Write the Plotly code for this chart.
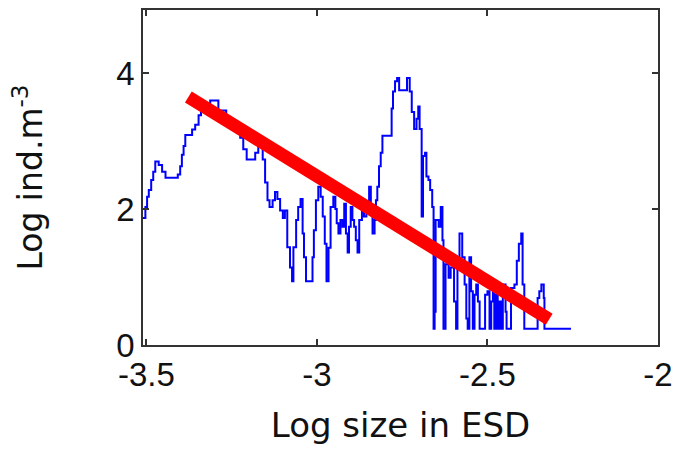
import plotly.graph_objects as go

# Histogram (stairs) of log abundance vs log size
size_x = [-3.510, -3.503, -3.498, -3.493, -3.486, -3.480, -3.474, -3.464, -3.454, -3.444,
          -3.408, -3.401, -3.396, -3.391, -3.386, -3.366, -3.357, -3.347, -3.340, -3.313,
          -3.289, -3.266, -3.243, -3.225, -3.216, -3.206, -3.181, -3.172, -3.159, -3.152,
          -3.145, -3.139, -3.130, -3.123, -3.116, -3.108, -3.100, -3.094, -3.087, -3.079,
          -3.073, -3.069, -3.061, -3.055, -3.048, -3.042, -3.038, -3.032, -3.013, -3.009,
          -3.003, -2.996, -2.989, -2.983, -2.977, -2.972, -2.966, -2.960, -2.952, -2.946,
          -2.942, -2.937, -2.931, -2.925, -2.920, -2.915, -2.910, -2.906, -2.901, -2.896,
          -2.891, -2.886, -2.881, -2.876, -2.868, -2.862, -2.855, -2.847, -2.842, -2.837,
          -2.831, -2.827, -2.823, -2.818, -2.813, -2.808, -2.781, -2.777, -2.771, -2.765,
          -2.759, -2.736, -2.728, -2.722, -2.715, -2.708, -2.703, -2.699, -2.693, -2.689,
          -2.683, -2.679, -2.673, -2.668, -2.662, -2.658, -2.655, -2.652, -2.643, -2.637,
          -2.632, -2.629, -2.623, -2.614, -2.608, -2.598, -2.592, -2.588, -2.582, -2.574,
          -2.567, -2.562, -2.558, -2.553, -2.548, -2.543, -2.538, -2.533, -2.528, -2.523,
          -2.507, -2.500, -2.494, -2.489, -2.484, -2.480, -2.475, -2.470, -2.465, -2.460,
          -2.455, -2.447, -2.444, -2.431, -2.421, -2.414, -2.408, -2.401, -2.397, -2.392,
          -2.353, -2.348, -2.342, -2.335, -2.333, -2.255]
log_abund = [1.87, 2.03, 2.18, 2.28, 2.43, 2.55, 2.70, 2.65, 2.55, 2.46,
             2.51, 2.63, 2.80, 2.93, 3.09, 3.17, 3.24, 3.38, 3.53, 3.60,
             3.45, 3.30, 3.15, 3.05, 2.88, 2.73, 2.83, 2.95, 2.73, 2.39,
             2.13, 2.03, 2.13, 2.25, 2.15, 1.98, 1.87, 1.98, 1.44, 1.14,
             0.94, 1.44, 1.84, 2.03, 2.15, 1.64, 1.29, 0.94, 1.29, 1.69,
             2.13, 2.33, 2.18, 1.89, 1.49, 0.94, 1.43, 2.03, 2.18, 2.00,
             1.79, 1.64, 1.84, 1.74, 2.08, 1.64, 1.36, 1.74, 2.03, 1.84,
             1.74, 1.54, 1.36, 1.84, 2.00, 1.89, 2.03, 2.33, 2.03, 1.64,
             1.84, 2.13, 2.33, 2.63, 2.83, 3.08, 3.48, 3.73, 3.88, 3.93,
             3.75, 3.93, 3.73, 3.43, 3.18, 3.33, 3.51, 3.18, 1.89, 2.78,
             2.83, 2.48, 2.43, 2.28, 2.03, 0.24, 0.49, 1.84, 1.74, 2.03,
             1.54, 0.24, 1.19, 0.99, 1.14, 0.64, 0.24, 1.29, 1.64, 1.29,
             0.89, 0.39, 0.24, 1.29, 0.79, 0.24, 0.74, 0.89, 0.64, 0.24,
             0.74, 0.79, 0.24, 0.64, 0.79, 0.24, 0.74, 0.24, 0.64, 0.24,
             0.89, 0.49, 0.24, 0.84, 0.89, 1.24, 1.49, 1.64, 0.89, 0.24,
             0.69, 0.79, 0.89, 0.69, 0.24, 0.24]

# Fitted regression line end points
fit_x = [-3.377, -2.319]
fit_y = [3.65, 0.38]

x_ticks = [-3.5, -3, -2.5, -2]
x_tick_text = ["-3.5", "-3", "-2.5", "-2"]
y_ticks = [0, 2, 4]
y_tick_text = ["0", "2", "4"]

fig = go.Figure()
fig.add_trace(go.Scatter(x=size_x, y=log_abund, mode="lines", line_shape="hv",
                         line=dict(color="#0000ff", width=2), showlegend=False,
                         hoverinfo="skip"))
fig.add_trace(go.Scatter(x=fit_x, y=fit_y, mode="lines",
                         line=dict(color="#ff0000", width=13), showlegend=False,
                         hoverinfo="skip"))

axis_common = dict(showline=True, linecolor="#333333", linewidth=1.5, mirror="ticks",
                   ticks="inside", ticklen=6, tickwidth=1.5, tickcolor="#333333",
                   showgrid=False, zeroline=False, automargin=False,
                   tickfont=dict(family="Liberation Sans, Arial, sans-serif", size=33, color="#111111"))

fig.update_layout(
    width=674, height=451,
    margin=dict(l=143, r=16, t=10, b=106),
    paper_bgcolor="white", plot_bgcolor="white",
    xaxis=dict(range=[-3.51, -2.0], tickvals=x_ticks, ticktext=x_tick_text,
               title=dict(text="Log size in ESD", standoff=21,
                          font=dict(family="DejaVu Sans, sans-serif", size=34, color="#111111")),
               **axis_common),
    yaxis=dict(range=[0, 4.93], tickvals=y_ticks, ticktext=y_tick_text,
               title=dict(text="Log ind.m<sup>-3</sup>", standoff=64,
                          font=dict(family="DejaVu Sans, sans-serif", size=33, color="#111111")),
               **axis_common),
)

# Remove the default page margin so the figure fills the window exactly.
fig.write_html("out.html",
               config={"displayModeBar": False},
               post_script="document.body.style.margin='0';document.body.style.overflow='hidden';")
